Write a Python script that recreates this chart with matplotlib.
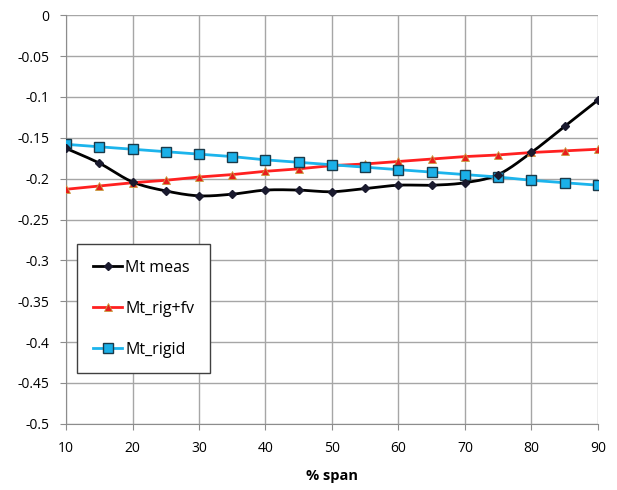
import numpy as np
import matplotlib
matplotlib.use("Agg")
import matplotlib.pyplot as plt
from matplotlib.lines import Line2D

span = [10, 15, 20, 25, 30, 35, 40, 45, 50, 55, 60, 65, 70, 75, 80, 85, 90]
mt_meas = [-0.163, -0.181, -0.204, -0.215, -0.221, -0.219, -0.214, -0.214, -0.216,
           -0.212, -0.208, -0.208, -0.205, -0.195, -0.168, -0.136, -0.104]
mt_rig_fv = [-0.213, -0.209, -0.205, -0.202, -0.198, -0.195, -0.191, -0.188, -0.184,
             -0.182, -0.179, -0.176, -0.173, -0.171, -0.168, -0.166, -0.164]
mt_rigid = [-0.158, -0.161, -0.164, -0.167, -0.170, -0.173, -0.177, -0.180, -0.183,
            -0.186, -0.189, -0.192, -0.195, -0.198, -0.202, -0.205, -0.208]
yticks = [0, -0.05, -0.1, -0.15, -0.2, -0.25, -0.3, -0.35, -0.4, -0.45, -0.5]
ytick_labels = ["0", "-0.05", "-0.1", "-0.15", "-0.2", "-0.25", "-0.3", "-0.35", "-0.4", "-0.45", "-0.5"]
xticks = [10, 20, 30, 40, 50, 60, 70, 80, 90]


def smooth(xs, ys, n=20):
    xs = np.asarray(xs, float)
    ys = np.asarray(ys, float)
    px = np.concatenate([[xs[0]], xs, [xs[-1]]])
    py = np.concatenate([[ys[0]], ys, [ys[-1]]])
    ox, oy = [], []
    for i in range(1, len(px) - 2):
        p0 = np.array([px[i - 1], py[i - 1]]); p1 = np.array([px[i], py[i]])
        p2 = np.array([px[i + 1], py[i + 1]]); p3 = np.array([px[i + 2], py[i + 2]])
        c1 = p1 + (p2 - p0) / 6
        c2 = p2 - (p3 - p1) / 6
        t = np.linspace(0, 1, n)[:, None]
        b = (1 - t) ** 3 * p1 + 3 * (1 - t) ** 2 * t * c1 + 3 * (1 - t) * t ** 2 * c2 + t ** 3 * p2
        ox.extend(b[:, 0]); oy.extend(b[:, 1])
    return ox, oy


plt.rcParams['font.family'] = ['Open Sans', 'DejaVu Sans']
fig = plt.figure(figsize=(6.17, 4.90), dpi=100)
ax = fig.add_axes([0.107, 0.135, 0.862, 0.834])

sx, sy = smooth(span, mt_meas)
ax.plot(sx, sy, color='black', lw=2, zorder=3)
ax.plot(span, mt_meas, ls='none', marker='D', ms=4, color='#1a1a2e', zorder=4)
ax.plot(span, mt_rig_fv, color='#ff2020', lw=2, marker='^', ms=6,
        mfc='#e81c1c', mec='#c8a040', mew=0.6, zorder=3)
ax.plot(span, mt_rigid, color='#1cb4ec', lw=2, marker='s', ms=6.5,
        mfc='#1ab0e8', mec='#1a3a4a', mew=1, zorder=3)

ax.set_xlim(10, 90)
ax.set_ylim(-0.5, 0)
ax.set_xticks(xticks)
ax.set_yticks(yticks)
ax.set_yticklabels(ytick_labels)
ax.grid(True, color='#a6a6a6', lw=1)
ax.set_axisbelow(True)
for s in ['top', 'right']:
    ax.spines[s].set_visible(False)
for s in ['left', 'bottom']:
    ax.spines[s].set_color('#8c8c8c')
ax.tick_params(axis='both', labelsize=10, length=4, color='#8c8c8c', pad=8)
ax.tick_params(axis='x', direction='out')
ax.set_xlabel('% span', fontsize=10.5, fontweight='bold', labelpad=10)

handles = [
    Line2D([], [], color='black', lw=2, marker='D', ms=4, mfc='#1a1a2e', mec='#1a1a2e'),
    Line2D([], [], color='#ff2020', lw=2, marker='^', ms=6, mfc='#e81c1c', mec='#c8a040', mew=0.6),
    Line2D([], [], color='#1cb4ec', lw=2, marker='s', ms=6.5, mfc='#1ab0e8', mec='#1a3a4a', mew=1),
]
leg = ax.legend(handles, ['Mt meas', 'Mt_rig+fv', 'Mt_rigid'], loc='upper left',
                bbox_to_anchor=(0.021, 0.44), fontsize=11.5, frameon=True, fancybox=False,
                edgecolor='#404040', framealpha=1, handlelength=1.8, handletextpad=0.2,
                labelspacing=1.55, borderpad=1.0, borderaxespad=0)
leg.get_frame().set_linewidth(1)

fig.savefig('out.png', dpi=100)
